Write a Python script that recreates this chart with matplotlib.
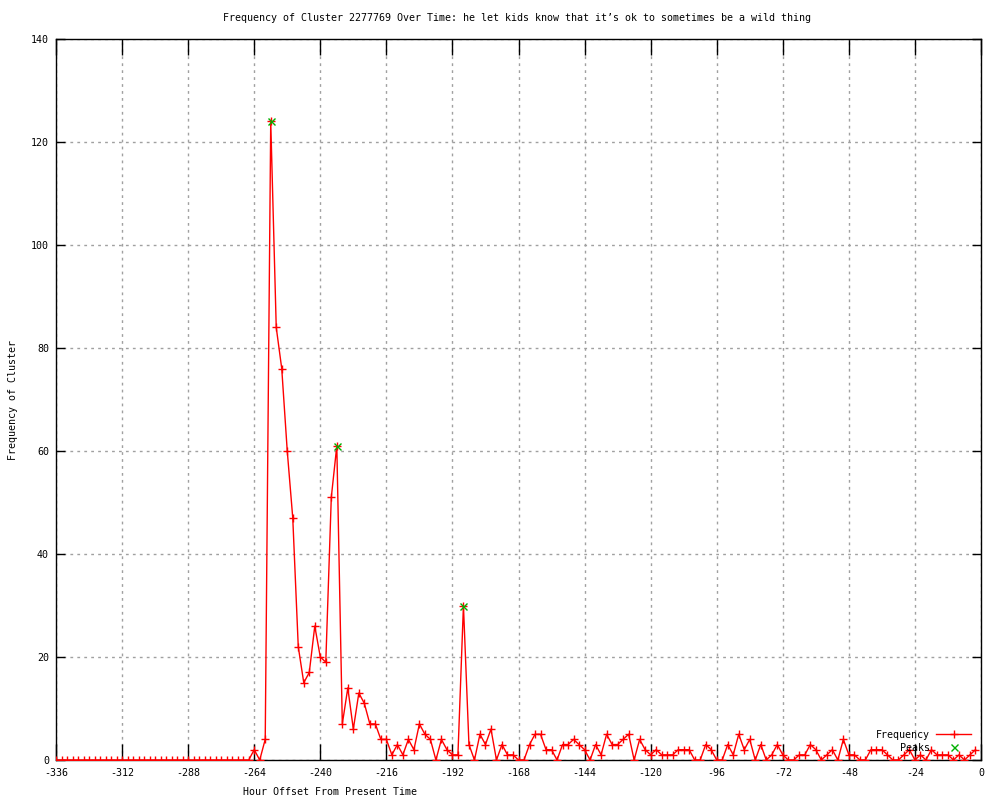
import matplotlib
matplotlib.use("Agg")
import matplotlib.pyplot as plt

# ---- data ----
hours = list(range(-336, 0, 2))
freq = [0] * 36 + [
    2, 0, 4, 124, 84, 76, 60, 47, 22, 15, 17, 26, 20, 19, 51, 61,
    7, 14, 6, 13, 11, 7, 7, 4, 4, 1, 3, 1, 4, 2, 7, 5, 4, 0, 4, 2,
    1, 1, 30, 3, 0, 5, 3, 6, 0, 3, 1, 1, 0, 0, 3, 5, 5, 2, 2, 0,
    3, 3, 4, 3, 2, 0, 3, 1, 5, 3, 3, 4, 5, 0, 4, 2, 1, 2, 1, 1,
    1, 2, 2, 2, 0, 0, 3, 2, 0, 0, 3, 1, 5, 2, 4, 0, 3, 0, 1, 3,
    1, 0, 0, 1, 1, 3, 2, 0, 1, 2, 0, 4, 1, 1, 0, 0, 2, 2, 2, 1,
    0, 0, 1, 2, 0, 1, 0, 2, 1, 1, 1, 0, 1, 0, 1, 2,
]
peak_hours = [-258, -234, -188]
peak_vals = [124, 61, 30]

xticks = list(range(-336, 1, 24))
yticks = list(range(0, 141, 20))

title = "Frequency of Cluster 2277769 Over Time: he let kids know that it\u2019s ok to sometimes be a wild thing"
xlabel = "Hour Offset From Present Time"
ylabel = "Frequency of Cluster"

# ---- plot ----
plt.rcParams['font.family'] = ['DejaVu Sans Mono', 'DejaVu Sans']
fs = 7.2
px = 72 / 100  # points per pixel

fig = plt.figure(figsize=(10, 8), dpi=100)
ax = fig.add_axes([0.056, 0.05, 0.925, 0.90125])

ax.plot(hours, freq, color='red', lw=1.0, marker='+', ms=8 * px, mew=1.0,
        label='Frequency', zorder=3)
ax.plot(peak_hours, peak_vals, ls='none', color='#00b000', marker='x', ms=7 * px,
        mew=1.0, label='Peaks', zorder=4)

ax.set_xlim(-336, 0)
ax.set_ylim(0, 140)
ax.set_xticks(xticks)
ax.set_yticks(yticks)
ax.set_xticklabels([str(t) for t in xticks], fontsize=fs)
ax.set_yticklabels([str(t) for t in yticks], fontsize=fs)
ax.tick_params(axis='x', direction='in', length=16 * px, width=1, top=True, pad=6)
ax.tick_params(axis='y', direction='in', length=9 * px, width=1, right=True, pad=5)
ax.grid(True, color='#a0a0a0', ls=(0, (2, 3)), lw=1)
for s in ax.spines.values():
    s.set_linewidth(1)

fig.text(0.517, 0.977, title, ha='center', va='center', fontsize=fs)
fig.text(0.33, 0.01, xlabel, ha='center', va='center', fontsize=fs)
fig.text(0.013, 0.5, ylabel, ha='center', va='center', rotation=90, fontsize=fs)

leg = ax.legend(loc='lower right', bbox_to_anchor=(0.996, 0.002), frameon=False,
                markerfirst=False, fontsize=fs, handlelength=3.5,
                handletextpad=0.6, labelspacing=0.3, borderaxespad=0.2)

fig.savefig('out.png', dpi=100)
